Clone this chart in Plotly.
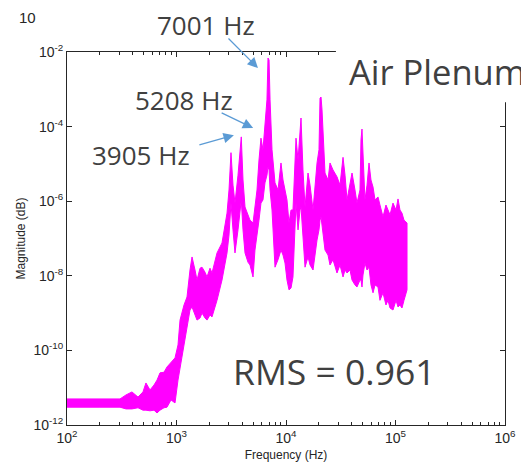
import plotly.graph_objects as go

# Frequency (Hz) and the upper / lower edge of the magnitude trace
freq_hz = [100, 200, 305, 346, 392, 445, 494, 526, 573, 623, 664, 707, 769, 819, 891, 969,
           1032, 1077, 1171, 1247, 1328, 1386, 1476, 1539, 1640, 1710, 1821, 1900, 2023, 2110,
           2344, 2604, 2893, 3016, 3145, 3280, 3421, 3645, 3905, 4049, 4223, 4499, 4691, 4998,
           5208, 5434, 5667, 5909, 6162, 6426, 6701, 6849, 7001, 7150, 7451, 7937, 8455, 9000,
           9390, 9795, 10210, 10650, 11110, 11580, 12340, 12880, 13430, 13710, 14290, 14920,
           15890, 16570, 17650, 19200, 20010, 20450, 20890, 21330, 22710, 24200, 25230, 26870,
           29230, 31130, 33170, 34590, 36070, 38410, 40080, 42660, 44490, 47390, 48400, 49430,
           50480, 52610, 54950, 57280, 59700, 62330, 65010, 69200, 72140, 76880, 81850, 85420,
           89130, 94850, 101100, 105400, 109900, 114600, 119600, 127400]

mag_upper = [5.0e-12, 5.0e-12, 5.0e-12, 6.4e-12, 7.7e-12, 5.6e-12, 7.7e-12, 1.34e-11, 8.7e-12,
             1.18e-11, 1.6e-11, 2.5e-11, 2.6e-11, 3.6e-11, 4.9e-11, 6.3e-11,
             1.4e-10, 6.5e-10, 1.65e-9, 2.7e-9, 1.43e-8, 3.2e-8, 1.43e-8, 7.7e-9, 1.6e-8, 1.7e-8,
             1.25e-8, 9.3e-9, 1.6e-8, 1.19e-8,
             4.1e-8, 7.6e-8, 4.8e-7, 2.0e-6, 2.0e-5, 2.7e-6, 8.9e-7, 5.0e-6, 5.3e-5, 3.7e-6,
             7.0e-7, 4.3e-7, 3.1e-7, 2.6e-7,
             7.9e-7, 2.0e-6, 1.27e-5, 4.9e-5, 2.4e-5, 1.25e-4, 5.2e-4, 6.9e-3, 6.1e-3, 5.2e-4,
             2.4e-5, 3.1e-6, 2.0e-6, 1.06e-5,
             3.7e-6, 2.0e-6, 1.08e-6, 2.6e-7, 5.8e-7, 5.8e-7, 4.9e-5, 1.27e-5, 6.0e-5, 1.7e-4,
             6.9e-6, 7.0e-7,
             5.7e-6, 2.7e-6, 5.8e-7, 1.06e-5, 2.4e-5, 5.8e-4, 6.2e-4, 2.8e-4, 5.7e-6, 3.7e-6,
             1.06e-5, 6.9e-6,
             4.5e-6, 2.7e-6, 1.5e-5, 5.0e-6, 1.08e-6, 2.7e-6, 5.7e-6, 2.0e-6, 8.9e-7, 2.0e-6,
             4.4e-5, 8.6e-5,
             1.27e-5, 1.08e-6, 2.7e-6, 1.06e-5, 3.7e-6, 2.4e-6, 1.08e-6, 1.3e-6, 7.9e-7, 3.8e-7,
             7.9e-7, 5.8e-7,
             4.3e-7, 8.9e-7, 5.8e-7, 1.15e-6, 5.8e-7, 4.8e-7, 3.1e-7, 2.6e-7]

mag_lower = [3.0e-12, 3.0e-12, 3.0e-12, 2.7e-12, 2.7e-12, 2.9e-12, 2.5e-12, 2.5e-12, 2.4e-12,
             2.5e-12, 2.1e-12, 2.5e-12, 2.9e-12, 3.0e-12, 4.7e-12, 3.9e-12,
             1.6e-11, 3.6e-11, 1.4e-10, 4.2e-10, 1.21e-9, 1.46e-9, 8.9e-10, 6.5e-10, 7.4e-10,
             1.0e-9, 7.4e-10, 6.5e-10, 8.9e-10, 7.9e-10,
             2.2e-9, 7.7e-9, 4.1e-8, 1.24e-7, 8.9e-7, 1.7e-7, 4.1e-8, 1.7e-7, 1.08e-6, 1.7e-7,
             4.1e-8, 2.3e-8, 1.95e-8, 9.3e-9,
             4.9e-8, 1.1e-7, 3.1e-7, 8.9e-7, 1.08e-6, 3.1e-6, 5.0e-6, 8.3e-6, 6.9e-6, 2.0e-6,
             5.8e-7, 1.7e-8, 2.7e-8, 4.9e-8,
             3.6e-8, 2.2e-8, 7.7e-9, 4.2e-9, 4.7e-9, 9.3e-9, 8.9e-7, 1.7e-7, 5.8e-7, 7.0e-7,
             9.1e-8, 1.7e-8,
             3.2e-8, 1.95e-8, 1.43e-8, 9.1e-8, 1.7e-7, 3.1e-7, 3.8e-7, 2.3e-7, 4.9e-8, 3.6e-8,
             1.95e-8, 2.7e-8,
             1.19e-8, 1.95e-8, 9.3e-9, 1.43e-8, 1.19e-8, 1.43e-8, 7.7e-9, 5.7e-9, 5.0e-9, 7.7e-9,
             7.7e-9, 5.0e-9,
             1.05e-8, 2.2e-8, 1.43e-8, 1.7e-8, 5.7e-9, 3.5e-9, 5.7e-9, 5.0e-9, 2.2e-9, 3.5e-9,
             1.65e-9, 2.2e-9,
             1.37e-9, 1.21e-9, 2.2e-9, 1.46e-9, 1.65e-9, 1.37e-9, 2.2e-9, 4.2e-9]

x_tick_vals = [1e2, 1e3, 1e4, 1e5, 1e6]
x_tick_text = ["10<sup>2</sup>", "10<sup>3</sup>", "10<sup>4</sup>", "10<sup>5</sup>", "10<sup>6</sup>"]
x_minor_vals = [m * d for d in (1e2, 1e3, 1e4, 1e5) for m in (2, 3, 4, 5, 6, 7, 8, 9)]
y_tick_vals = [1e-12, 1e-10, 1e-8, 1e-6, 1e-4, 1e-2]
y_tick_text = ["10<sup>-12</sup>", "10<sup>-10</sup>", "10<sup>-8</sup>", "10<sup>-6</sup>",
               "10<sup>-4</sup>", "10<sup>-2</sup>"]

peak_labels = ["7001 Hz", "5208 Hz", "3905 Hz"]

MAGENTA = "#ff00ff"
AXC = "#262626"
TXT = "#404040"
ARROW = "#5b9bd5"
TICKF = dict(family="Liberation Sans, Arial, sans-serif", size=14, color=AXC)
TITLEF = dict(family="Liberation Sans, Arial, sans-serif", size=12, color=AXC)

fig = go.Figure()
fig.add_trace(go.Scatter(
    x=freq_hz + freq_hz[::-1],
    y=mag_upper + mag_lower[::-1],
    mode="lines", fill="toself", fillcolor=MAGENTA,
    line=dict(color=MAGENTA, width=1),
    hoverinfo="skip", showlegend=False,
))

axis_common = dict(
    type="log", showgrid=False, zeroline=False, showline=True, linecolor=AXC, linewidth=1,
    mirror="ticks", ticks="inside", ticklen=5, tickcolor=AXC, tickwidth=1,
    tickfont=TICKF, automargin=False,
)

fig.update_layout(
    width=521, height=466,
    margin=dict(l=59, r=24, t=44, b=49, autoexpand=False),
    paper_bgcolor="white", plot_bgcolor="white",
    xaxis=dict(**axis_common, range=[2, 6], tickvals=x_tick_vals, ticktext=x_tick_text,
               minor=dict(ticks="inside", ticklen=3, tickcolor=AXC, showgrid=False,
                          tickmode="array", tickvals=x_minor_vals),
               title=dict(text="Frequency (Hz)", standoff=5, font=TITLEF)),
    yaxis=dict(**axis_common, range=[-12, -2], tickvals=y_tick_vals, ticktext=y_tick_text,
               title=dict(text="Magnitude (dB)", standoff=5, font=TITLEF)),
    showlegend=False,
)

# white box behind the "Air Plenum" title covering the top-right corner of the frame
fig.add_shape(type="rect", xref="paper", yref="paper", x0=0.614, x1=1.06, y0=0.865, y1=1.15,
              fillcolor="white", line=dict(width=0), layer="above")

big = dict(family="Open Sans, Lato, sans-serif", color=TXT)
anns = [
    dict(text=peak_labels[0], x=0.317, y=1.072, size=26),
    dict(text=peak_labels[1], x=0.267, y=0.871, size=26),
    dict(text=peak_labels[2], x=0.169, y=0.724, size=26),
    dict(text="Air Plenum", x=0.846, y=0.949, size=34.5),
    dict(text="RMS = 0.961", x=0.610, y=0.145, size=35.5),
]
for a in anns:
    fig.add_annotation(text=a["text"], x=a["x"], y=a["y"], xref="paper", yref="paper",
                       showarrow=False, xanchor="center", yanchor="middle",
                       font=dict(size=a["size"], **big))

fig.add_annotation(text="10", x=-0.090, y=1.093, xref="paper", yref="paper", showarrow=False,
                   xanchor="center", yanchor="middle",
                   font=dict(family="Liberation Sans, Arial, sans-serif", size=15, color=AXC))

arrows = [
    (0.436, 0.957, -31, -31),
    (0.425, 0.796, -33, -16),
    (0.381, 0.777, -36, 10),
]
for hx, hy, ax, ay in arrows:
    fig.add_annotation(text="", x=hx, y=hy, xref="paper", yref="paper", ax=ax, ay=ay,
                       showarrow=True, arrowhead=2, arrowsize=1.6, arrowwidth=1.3,
                       arrowcolor=ARROW)

fig.write_html("out.html")
